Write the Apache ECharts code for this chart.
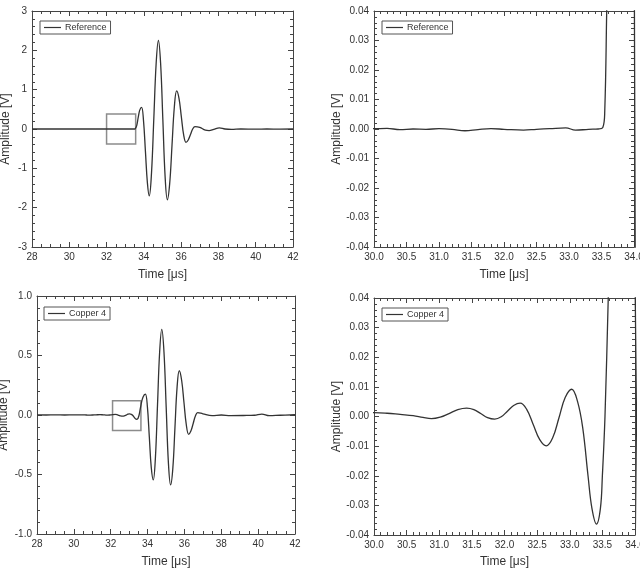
<!DOCTYPE html>
<html>
<head>
<meta charset="utf-8">
<script src="https://cdn.jsdelivr.net/npm/echarts@6/dist/echarts.min.js"></script>
<style>
html, body { margin: 0; padding: 0; background: #fff; }
#chart { width: 640px; height: 576px; }
</style>
</head>
<body>
<div id="chart"></div>
<script>
// reference pulse (time in us, amplitude in V)
var refTime = [28.0, 29.0, 30.0, 30.2, 30.4, 30.6, 30.8, 31.0, 31.2, 31.4, 31.6, 31.8, 32.0, 32.3, 32.5, 32.7, 32.95, 33.1, 33.3, 33.45, 33.52,
  33.55, 33.58, 33.62, 33.7, 33.78, 33.88, 33.98, 34.085, 34.19, 34.29, 34.41, 34.535, 34.66, 34.78, 34.9, 35.02, 35.14, 35.26,
  35.385, 35.51, 35.635, 35.76, 35.885, 36.01, 36.135, 36.26, 36.38, 36.5, 36.62, 36.74,
  37.0, 37.3, 37.5, 37.75, 38.05, 38.35, 38.7, 39.2, 40.0, 40.6, 41.3, 42.0];
var refAmp = [0.0, 0.0, 0.0001, 0.0002, -0.0002, 0.0, -0.0001, 0.0001, -0.0001, -0.0006, -0.0002, 0.0001, -0.0001, -0.0004, -0.0001, 0.0001, 0.0004, -0.0004, -0.0001, 0.0, 0.0005,
  0.006, 0.04, 0.09, 0.3, 0.48, 0.55, 0.22, -0.575, -1.37, -1.70, -1.12, 0.275, 1.67, 2.25, 1.66, 0.225, -1.21, -1.80,
  -1.39, -0.415, 0.56, 0.97, 0.78, 0.315, -0.15, -0.34, -0.28, -0.14, 0.0, 0.06,
  0.04, -0.03, -0.04, -0.01, 0.03, 0.0, -0.01, 0.0, -0.005, 0.0, -0.003, 0.0];

// copper 4 pulse
var cuTime = [28.0, 28.5, 29.0, 29.5, 30.0, 30.2, 30.4, 30.6, 30.75, 30.88, 31.015, 31.15, 31.285, 31.42, 31.53, 31.635, 31.74, 31.85,
  31.95, 32.045, 32.14, 32.24, 32.34, 32.44, 32.54, 32.64, 32.74, 32.835, 32.93, 33.03, 33.12, 33.2, 33.28, 33.34, 33.41, 33.47, 33.5,
  33.54, 33.59, 33.65, 33.75, 33.88, 33.99, 34.095, 34.2, 34.31, 34.425, 34.54, 34.655, 34.77, 34.89, 35.01, 35.13, 35.25,
  35.37, 35.485, 35.6, 35.72, 35.85, 35.975, 36.1, 36.23, 36.35, 36.475, 36.6, 36.72,
  37.0, 37.5, 38.0, 38.5, 39.2, 39.8, 40.2, 40.6, 41.2, 42.0];
var cuAmp = [0.001, 0.0, 0.001, 0.0, 0.0013, 0.0011, 0.0007, 0.0003, -0.0003, -0.0007, -0.0002, 0.001, 0.0023, 0.0028, 0.0023, 0.001, -0.0004, -0.0009,
  -0.0001, 0.0018, 0.0037, 0.0045, 0.0024, -0.0027, -0.0078, -0.0099, -0.0071, -0.0004, 0.0064, 0.0092, 0.005, -0.004, -0.02, -0.031, -0.0363, -0.031, -0.02,
  0.0, 0.04, 0.09, 0.15, 0.176, 0.07, -0.185, -0.44, -0.546, -0.36, 0.087, 0.53, 0.72, 0.53, 0.066, -0.40, -0.588,
  -0.45, -0.108, 0.23, 0.372, 0.29, 0.105, -0.08, -0.162, -0.135, -0.071, -0.006, 0.02,
  0.01, -0.005, 0.0, -0.005, -0.004, -0.002, 0.008, -0.006, -0.002, 0.002];

// zoom boxes drawn on the full traces [x0, x1, y0, y1]
var refBox = [32.0, 33.56, -0.38, 0.38];
var cuBox = [32.1, 33.64, -0.13, 0.12];

// axis ranges [min, max, step]
var fullX = [28, 42, 2];
var zoomX = [30, 34, 0.5];
var refY = [-3, 3, 1];
var cuY = [-1, 1, 0.5];
var smallY = [-0.04, 0.04, 0.01];

var font = "'Liberation Sans Narrow', 'Liberation Sans', Arial, sans-serif";
var ink = '#333';

var panels = [
  { name: 'Reference', t: refTime, a: refAmp, box: refBox, x: fullX, y: refY, xd: 0, yd: 0, xs: 4, ys: 5,
    rect: { left: 32, top: 11, width: 261, height: 236 }, gapY: 20, gapX: 22, legend: { left: 40, top: 21 } },
  { name: 'Reference', t: refTime, a: refAmp, box: null, x: zoomX, y: smallY, xd: 1, yd: 2, xs: 5, ys: 5,
    rect: { left: 374, top: 11, width: 260, height: 236 }, gapY: 31, gapX: 22, legend: { left: 382, top: 21 } },
  { name: 'Copper 4', t: cuTime, a: cuAmp, box: cuBox, x: fullX, y: cuY, xd: 0, yd: 1, xs: 4, ys: 5,
    rect: { left: 37, top: 296, width: 258, height: 238 }, gapY: 27, gapX: 22, legend: { left: 44, top: 307 } },
  { name: 'Copper 4', t: cuTime, a: cuAmp, box: null, x: zoomX, y: smallY, xd: 1, yd: 2, xs: 5, ys: 5,
    rect: { left: 374, top: 298, width: 261, height: 237 }, gapY: 25, gapX: 21, legend: { left: 382, top: 308 } }
];

function makeAxis(i, range, digits, split, pos, isMain, name, gap) {
  return {
    type: 'value',
    gridIndex: i,
    position: pos,
    min: range[0],
    max: range[1],
    interval: range[2],
    name: isMain ? name : '',
    nameLocation: 'middle',
    nameGap: gap,
    nameTextStyle: { fontFamily: font, fontSize: 12, color: ink },
    axisLine: { show: true, onZero: false, lineStyle: { color: '#444', width: 1 } },
    axisTick: { show: true, inside: true, length: 5, lineStyle: { color: '#444' } },
    minorTick: { show: true, splitNumber: split, length: 3, lineStyle: { color: '#444' } },
    splitLine: { show: false },
    axisLabel: {
      show: isMain,
      margin: 5,
      fontFamily: font,
      fontSize: 10,
      color: ink,
      formatter: function (v) { return v.toFixed(digits); }
    }
  };
}

var grid = [], xAxis = [], yAxis = [], series = [], legend = [];

panels.forEach(function (p, i) {
  var r = p.rect;
  grid.push({ left: r.left, top: r.top, width: r.width, height: r.height, outerBoundsMode: 'none', containLabel: false });

  xAxis.push(makeAxis(i, p.x, p.xd, p.xs, 'bottom', true, 'Time [\u03bcs]', p.gapX));
  xAxis.push(makeAxis(i, p.x, p.xd, p.xs, 'top', false, '', 0));
  var ya = makeAxis(i, p.y, p.yd, p.ys, 'left', true, 'Amplitude [V]', p.gapY);
  ya.nameRotate = 90;
  yAxis.push(ya);
  yAxis.push(makeAxis(i, p.y, p.yd, p.ys, 'right', false, '', 0));

  var s = {
    type: 'line',
    name: p.name,
    xAxisIndex: 2 * i,
    yAxisIndex: 2 * i,
    data: p.t.map(function (t, k) { return [t, p.a[k]]; }),
    showSymbol: false,
    smooth: 0.4,
    clip: true,
    color: ink,
    lineStyle: { color: ink, width: 1.3 }
  };
  if (p.box) {
    s.markArea = {
      silent: true,
      itemStyle: { color: 'rgba(0,0,0,0)', borderColor: '#8c8c8c', borderWidth: 1.5 },
      data: [[{ coord: [p.box[0], p.box[3]] }, { coord: [p.box[1], p.box[2]] }]]
    };
  }
  series.push(s);

  legend.push({
    data: [p.name],
    left: p.legend.left,
    top: p.legend.top,
    orient: 'horizontal',
    icon: 'rect',
    itemWidth: 17,
    itemHeight: 1.2,
    itemGap: 0,
    padding: [2, 4, 2, 4],
    borderColor: '#555',
    borderWidth: 1,
    borderRadius: 0,
    backgroundColor: '#fff',
    selectedMode: false,
    textStyle: { fontFamily: font, fontSize: 9, color: ink, padding: [0, 0, 0, -1] }
  });
});

var chart = echarts.init(document.getElementById('chart'), null, { renderer: 'canvas' });
chart.setOption({
  animation: false,
  backgroundColor: '#fff',
  grid: grid,
  xAxis: xAxis,
  yAxis: yAxis,
  legend: legend,
  series: series
});
</script>
</body>
</html>
